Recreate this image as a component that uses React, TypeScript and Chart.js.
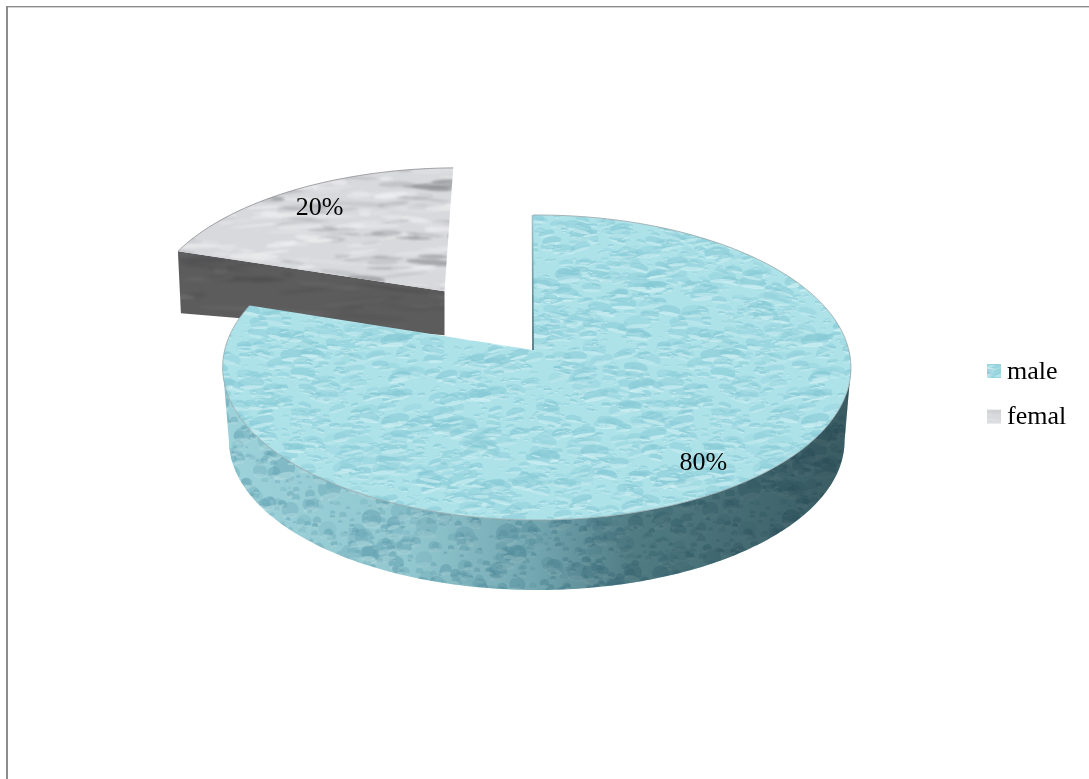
import React, { useEffect, useRef } from "react";
import { Chart, registerables } from "chart.js";

Chart.register(...registerables);

// Chart content
const categories = ["male", "femal"];
const shares = [80, 20];
const valueLabels = ["80%", "20%"];
// How far each slice is pulled from the centre, as a percentage of the radius
const pullOutPercent = [0, 50.7];
// Distance of each value label from its slice's apex, as a share of the radius
const labelReach = [0.85, 0.81];

// Canvas and text
const WIDTH = 1089;
const HEIGHT = 779;
const SERIF = '"Liberation Serif", "Times New Roman", serif';
const FONT = `26px ${SERIF}`;

// Projection of the flat disc into the tilted view
const RADIUS = 312;
const TILT = 0.4824;
const PERSPECTIVE = 0.1147;
const SIDE_PERSPECTIVE = -0.012;
const WALL_DEPTH = 73.4;
const WALL_SHRINK = 0.98;
const FACE_DEPTH_APEX = 44;
const FACE_DEPTH_RIM = 62;
const FRONT_LIMIT = Math.acos(-PERSPECTIVE);

type Pt = { x: number; y: number };

// Small deterministic generator so the surface textures stay the same on each load
function makeRng(seed: number) {
  let s = seed >>> 0;
  return () => {
    s = (Math.imul(s, 1664525) + 1013904223) >>> 0;
    return s / 4294967296;
  };
}

function tile(size: number, paint: (c: CanvasRenderingContext2D, size: number) => void) {
  const el = document.createElement("canvas");
  el.width = size;
  el.height = size;
  paint(el.getContext("2d")!, size);
  return el;
}

function wrapped(size: number, x: number, y: number, fn: (x: number, y: number) => void) {
  for (const dx of [-size, 0, size]) for (const dy of [-size, 0, size]) fn(x + dx, y + dy);
}

function bubbleTile(
  base: string,
  dark: string,
  light: string,
  count: number,
  maxR: number,
  squash: number,
  seed: number,
  strength: number,
) {
  return tile(420, (c, size) => {
    const rnd = makeRng(seed);
    c.fillStyle = base;
    c.fillRect(0, 0, size, size);
    c.filter = "blur(0.7px)";
    for (let i = 0; i < count; i++) {
      const x = rnd() * size;
      const y = rnd() * size;
      const big = rnd();
      const rx = 1.4 + big * big * big * big * maxR + rnd() * 2.5;
      const ry = rx * squash;
      const rot = (rnd() - 0.5) * 0.6;
      const alpha = (0.25 + rnd() * 0.5) * strength;
      wrapped(size, x, y, (px, py) => {
        if (px < -30 || py < -30 || px > size + 30 || py > size + 30) return;
        c.globalAlpha = alpha;
        c.fillStyle = dark;
        c.beginPath();
        c.ellipse(px, py, rx, ry, rot, 0, Math.PI * 2);
        c.fill();
        c.fillStyle = light;
        c.globalAlpha = Math.min(1, alpha + 0.15);
        c.beginPath();
        c.ellipse(px, py + ry * 0.8, rx * 0.9, Math.max(0.6, ry * 0.35), rot, 0, Math.PI * 2);
        c.fill();
      });
    }
    c.filter = "none";
    c.globalAlpha = 1;
  });
}

function streakTile(base: string, colors: string[], count: number, seed: number, blur: number, longest: number) {
  return tile(420, (c, size) => {
    const rnd = makeRng(seed);
    c.fillStyle = base;
    c.fillRect(0, 0, size, size);
    c.filter = `blur(${blur}px)`;
    for (let i = 0; i < count; i++) {
      const x = rnd() * size;
      const y = rnd() * size;
      const rx = 5 + rnd() * longest;
      const ry = 0.8 + rnd() * 2.6;
      const rot = (rnd() - 0.5) * 0.25;
      c.fillStyle = colors[Math.floor(rnd() * colors.length)];
      c.globalAlpha = 0.18 + rnd() * 0.4;
      wrapped(size, x, y, (px, py) => {
        if (px < -70 || py < -20 || px > size + 70 || py > size + 20) return;
        c.beginPath();
        c.ellipse(px, py, rx, ry, rot, 0, Math.PI * 2);
        c.fill();
      });
    }
    c.filter = "none";
    c.globalAlpha = 1;
  });
}

function App() {
  const ref = useRef<HTMLCanvasElement>(null);

  useEffect(() => {
    const canvas = ref.current!;
    const ctx = canvas.getContext("2d")!;
    const pattern = (t: HTMLCanvasElement) => ctx.createPattern(t, "repeat")!;

    const waterTop = pattern(bubbleTile("#aee2e9", "#85c9d5", "#d2f2f5", 3600, 12, 0.42, 11, 0.8));
    const waterSide = pattern(bubbleTile("#a4d8e0", "#6eacbc", "#bfe5ea", 3000, 8, 0.9, 23, 0.7));
    const marbleTop = pattern(
      streakTile("#d8d9dc", ["#85878c", "#9fa1a6", "#f3f3f5", "#f8f8f9", "#f0f0f2"], 1100, 5, 1.3, 24),
    );
    const marbleSide = pattern(streakTile("#5c5c5d", ["#444445", "#747475", "#6a6a6b", "#4c4c4d"], 420, 9, 1.6, 44));

    // Maps a point of the unit disc (u to the right, v to the back) to the page
    const project = (arc: any, u: number, v: number, cu = 0, cv = 0): Pt => {
      const pu = u + cu;
      const pv = v + cv;
      const w = 1 + PERSPECTIVE * pv + SIDE_PERSPECTIVE * pu;
      return { x: arc.x + (arc.outerRadius * pu) / w, y: arc.y - (arc.outerRadius * TILT * pv) / w };
    };
    const lowered = (arc: any, p: Pt): Pt => ({
      x: arc.x + (p.x - arc.x) * WALL_SHRINK,
      y: arc.y + WALL_DEPTH + (p.y - arc.y) * WALL_SHRINK,
    });
    const trace = (c: CanvasRenderingContext2D, pts: Pt[]) => {
      c.beginPath();
      pts.forEach((p, i) => (i ? c.lineTo(p.x, p.y) : c.moveTo(p.x, p.y)));
      c.closePath();
    };

    const pieLook = {
      id: "pieLook",
      // Slices are painted back to front from the arc elements' own geometry
      beforeDatasetDraw(chart: any, args: any) {
        const c = chart.ctx as CanvasRenderingContext2D;
        const arcs = args.meta.data as any[];
        const order = arcs.map((_, i) => i).reverse();
        for (const i of order) {
          const arc = arcs[i];
          const mid = (arc.startAngle + arc.endAngle) / 2;
          const pull = (arc.options.offset || 0) / 100;
          const cu = Math.cos(mid) * pull;
          const cv = -Math.sin(mid) * pull;
          const rim = (a: number) => project(arc, Math.cos(a), -Math.sin(a), cu, cv);
          const apex = project(arc, 0, 0, cu, cv);
          const steps = Math.max(4, Math.round((arc.endAngle - arc.startAngle) * 90));
          const outer: Pt[] = [];
          for (let s = 0; s <= steps; s++) {
            outer.push(rim(arc.startAngle + ((arc.endAngle - arc.startAngle) * s) / steps));
          }

          c.save();
          if (pull > 0) {
            // Cut face of the pulled-out slice
            const rimPt = rim(arc.startAngle);
            const face = [
              apex,
              rimPt,
              { x: rimPt.x + 3, y: rimPt.y + FACE_DEPTH_RIM },
              { x: apex.x, y: apex.y + FACE_DEPTH_APEX },
            ];
            trace(c, face);
            c.fillStyle = marbleSide;
            c.fill();
          } else {
            // Front wall of the main body, lighter on the left and dark on the right
            const from = -Math.PI / 2 + FRONT_LIMIT;
            const to = -Math.PI / 2 + 2 * Math.PI - FRONT_LIMIT;
            const wallTop: Pt[] = [];
            for (let s = 0; s <= 200; s++) wallTop.push(rim(from + ((to - from) * s) / 200));
            const wall = wallTop.concat(wallTop.map((p) => lowered(arc, p)).reverse());
            trace(c, wall);
            c.fillStyle = waterSide;
            c.fill();
            const shade = c.createLinearGradient(arc.x - RADIUS, 0, arc.x + RADIUS, 0);
            shade.addColorStop(0, "#f4f8f8");
            shade.addColorStop(0.3, "#e2ebec");
            shade.addColorStop(0.5, "#b3c6ca");
            shade.addColorStop(0.66, "#7d9296");
            shade.addColorStop(1, "#5a6c70");
            c.globalCompositeOperation = "multiply";
            trace(c, wall);
            c.fillStyle = shade;
            c.fill();
            c.globalCompositeOperation = "source-over";
          }

          // Top surface
          trace(c, [apex, ...outer]);
          c.fillStyle = arc.options.backgroundColor;
          c.fill();
          c.lineWidth = 1;
          c.strokeStyle = pull > 0 ? "rgba(140,140,145,0.8)" : "rgba(150,165,168,0.8)";
          c.beginPath();
          outer.forEach((p, k) => (k ? c.lineTo(p.x, p.y) : c.moveTo(p.x, p.y)));
          c.stroke();
          if (pull === 0) {
            // Thin sliver of the wall visible beside the upright edge
            const edge = rim(arc.startAngle);
            const sliver = c.createLinearGradient(0, edge.y, 0, apex.y);
            sliver.addColorStop(0, "#9cc8d0");
            sliver.addColorStop(1, "#3f6a72");
            c.strokeStyle = sliver;
            c.lineWidth = 1.6;
            c.beginPath();
            c.moveTo(edge.x - 0.5, edge.y);
            c.lineTo(apex.x, apex.y);
            c.stroke();
          }
          c.restore();
        }
        return false;
      },
      afterDatasetsDraw(chart: any) {
        const c = chart.ctx as CanvasRenderingContext2D;
        const arcs = chart.getDatasetMeta(0).data as any[];
        c.save();
        c.font = FONT;
        c.fillStyle = "#000";
        c.textAlign = "center";
        c.textBaseline = "middle";
        arcs.forEach((arc, i) => {
          const mid = (arc.startAngle + arc.endAngle) / 2;
          const reach = labelReach[i] + (arc.options.offset || 0) / 100;
          const p = project(arc, Math.cos(mid) * reach, -Math.sin(mid) * reach);
          c.fillText(valueLabels[i], p.x, p.y);
        });
        c.restore();
      },
      afterDraw(chart: any) {
        const c = chart.ctx as CanvasRenderingContext2D;
        // Frame along the top and left of the page
        c.save();
        c.fillStyle = "#8c8c8c";
        c.fillRect(6, 6, WIDTH - 6, 1.4);
        c.fillRect(6, 6, 2, HEIGHT - 6);
        // Legend
        const arcs = chart.getDatasetMeta(0).data as any[];
        c.font = FONT;
        c.textAlign = "left";
        c.textBaseline = "alphabetic";
        categories.forEach((name, i) => {
          const cy = 371 + i * 45.6;
          c.fillStyle = arcs[i].options.backgroundColor;
          c.fillRect(987, cy - 7, 14, 14);
          c.fillStyle = "#000";
          c.fillText(name, 1007, cy + 7.5);
        });
        c.restore();
      },
    };

    const chart = new Chart(canvas, {
      type: "pie",
      data: {
        labels: categories,
        datasets: [
          {
            data: shares,
            offset: pullOutPercent,
            backgroundColor: [waterTop, marbleTop],
            borderWidth: 0,
            radius: RADIUS,
          } as any,
        ],
      },
      options: {
        responsive: false,
        animation: false,
        layout: { padding: { left: 0, right: 23, top: 0, bottom: 79 } },
        plugins: { legend: { display: false }, tooltip: { enabled: false } },
      },
      plugins: [pieLook as any],
    });
    return () => chart.destroy();
  }, []);

  return (
    <canvas
      ref={ref}
      width={WIDTH}
      height={HEIGHT}
      style={{ position: "fixed", left: 0, top: 0, width: WIDTH, height: HEIGHT, background: "#fff" }}
    />
  );
}

export default App;
